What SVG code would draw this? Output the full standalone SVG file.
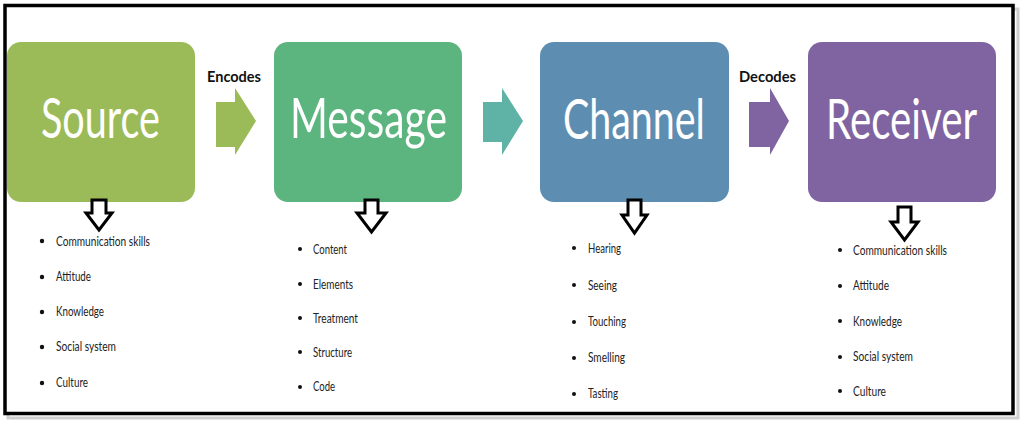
<svg xmlns="http://www.w3.org/2000/svg" width="1024" height="425" viewBox="0 0 1024 425">
  <defs>
    <style>
      .title { font-family: Lato, "Open Sans", sans-serif; font-size: 57px; fill: #ffffff; }
      .lbl { font-family: Lato, "Open Sans", sans-serif; font-size: 16px; font-weight: bold; fill: #111111; }
      .item { font-family: Lato, "Open Sans", sans-serif; font-size: 14px; fill: #222222; }
      .bul { fill: #111111; }
      .down { fill: #ffffff; stroke: #000000; stroke-width: 3; stroke-linejoin: miter; }
    </style>
  </defs>
  <rect width="1024" height="425" fill="#ffffff"/>
  <!-- frame shadow -->
  <rect x="8" y="9" width="1010" height="409" fill="none" stroke="#cfcfcf" stroke-width="3"/>
  <rect x="5" y="5.5" width="1008" height="408" fill="#ffffff" stroke="#000000" stroke-width="3.5"/>

  <g id="connectors">
    <polygon points="216,102 235,102 235,88 256,121 235,155 235,147 216,147" fill="#9BBB59"/>
    <polygon points="483,102 502,102 502,88 523,121 502,155 502,142 483,142" fill="#5EB3A6"/>
    <polygon points="749,102 770,102 770,88 789,121 770,155 770,147 749,147" fill="#8064A2"/>
    <text class="lbl" x="207" y="82" textLength="54" lengthAdjust="spacingAndGlyphs">Encodes</text>
    <text class="lbl" x="739" y="82" textLength="57" lengthAdjust="spacingAndGlyphs">Decodes</text>
  </g>

  <g id="source">
    <rect x="7" y="42" width="188" height="160" rx="14" fill="#9BBB59"/>
    <text class="title" transform="translate(41,138) scale(0.72,1)" textLength="165" lengthAdjust="spacingAndGlyphs">Source</text>
    <polygon class="down" points="92,200 106,200 106,213 112,213 99,230 86,213 92,213"/>
    <g class="item">
      <text x="56" y="246" textLength="94" lengthAdjust="spacingAndGlyphs">Communication skills</text>
      <text x="56" y="281" textLength="35" lengthAdjust="spacingAndGlyphs">Attitude</text>
      <text x="56" y="316" textLength="48" lengthAdjust="spacingAndGlyphs">Knowledge</text>
      <text x="56" y="351" textLength="60" lengthAdjust="spacingAndGlyphs">Social system</text>
      <text x="56" y="387" textLength="32" lengthAdjust="spacingAndGlyphs">Culture</text>
    </g>
    <g class="bul">
      <circle cx="42" cy="241" r="2.2"/><circle cx="42" cy="277" r="2.2"/><circle cx="42" cy="312" r="2.2"/><circle cx="42" cy="347" r="2.2"/><circle cx="42" cy="383" r="2.2"/>
    </g>
  </g>

  <g id="message">
    <rect x="274" y="42" width="188" height="160" rx="14" fill="#5CB47E"/>
    <text class="title" transform="translate(290,138) scale(0.72,1)" textLength="218" lengthAdjust="spacingAndGlyphs">Message</text>
    <polygon class="down" points="365,200 378,200 378,213 386,213 371.5,232 357,213 365,213"/>
    <g class="item">
      <text x="313" y="254" textLength="34" lengthAdjust="spacingAndGlyphs">Content</text>
      <text x="313" y="289" textLength="40" lengthAdjust="spacingAndGlyphs">Elements</text>
      <text x="313" y="323" textLength="45" lengthAdjust="spacingAndGlyphs">Treatment</text>
      <text x="313" y="357" textLength="39" lengthAdjust="spacingAndGlyphs">Structure</text>
      <text x="313" y="391" textLength="22" lengthAdjust="spacingAndGlyphs">Code</text>
    </g>
    <g class="bul">
      <circle cx="300" cy="249" r="2"/><circle cx="300" cy="284" r="2"/><circle cx="300" cy="318" r="2"/><circle cx="300" cy="352" r="2"/><circle cx="300" cy="387" r="2"/>
    </g>
  </g>

  <g id="channel">
    <rect x="540" y="42" width="189" height="160" rx="14" fill="#5D8EB2"/>
    <text class="title" transform="translate(563,139) scale(0.72,1)" textLength="197" lengthAdjust="spacingAndGlyphs">Channel</text>
    <polygon class="down" points="628,200 641,200 641,215 647,215 634.5,233 622,215 628,215"/>
    <g class="item">
      <text x="588" y="253" textLength="33" lengthAdjust="spacingAndGlyphs">Hearing</text>
      <text x="588" y="290" textLength="29" lengthAdjust="spacingAndGlyphs">Seeing</text>
      <text x="588" y="326" textLength="38" lengthAdjust="spacingAndGlyphs">Touching</text>
      <text x="588" y="362" textLength="37" lengthAdjust="spacingAndGlyphs">Smelling</text>
      <text x="588" y="398" textLength="30" lengthAdjust="spacingAndGlyphs">Tasting</text>
    </g>
    <g class="bul">
      <circle cx="574" cy="248" r="2"/><circle cx="574" cy="285" r="2"/><circle cx="574" cy="322" r="2"/><circle cx="574" cy="358" r="2"/><circle cx="574" cy="394" r="2"/>
    </g>
  </g>

  <g id="receiver">
    <rect x="808" y="42" width="188" height="160" rx="14" fill="#8064A2"/>
    <text class="title" transform="translate(826,139) scale(0.72,1)" textLength="210" lengthAdjust="spacingAndGlyphs">Receiver</text>
    <polygon class="down" points="898,207 911,207 911,222 918,222 904.5,240 891,222 898,222"/>
    <g class="item">
      <text x="853" y="255" textLength="94" lengthAdjust="spacingAndGlyphs">Communication skills</text>
      <text x="853" y="290" textLength="36" lengthAdjust="spacingAndGlyphs">Attitude</text>
      <text x="853" y="326" textLength="49" lengthAdjust="spacingAndGlyphs">Knowledge</text>
      <text x="853" y="361" textLength="60" lengthAdjust="spacingAndGlyphs">Social system</text>
      <text x="853" y="396" textLength="33" lengthAdjust="spacingAndGlyphs">Culture</text>
    </g>
    <g class="bul">
      <circle cx="840" cy="250" r="2"/><circle cx="840" cy="286" r="2"/><circle cx="840" cy="321" r="2"/><circle cx="840" cy="357" r="2"/><circle cx="840" cy="391" r="2"/>
    </g>
  </g>
</svg>
